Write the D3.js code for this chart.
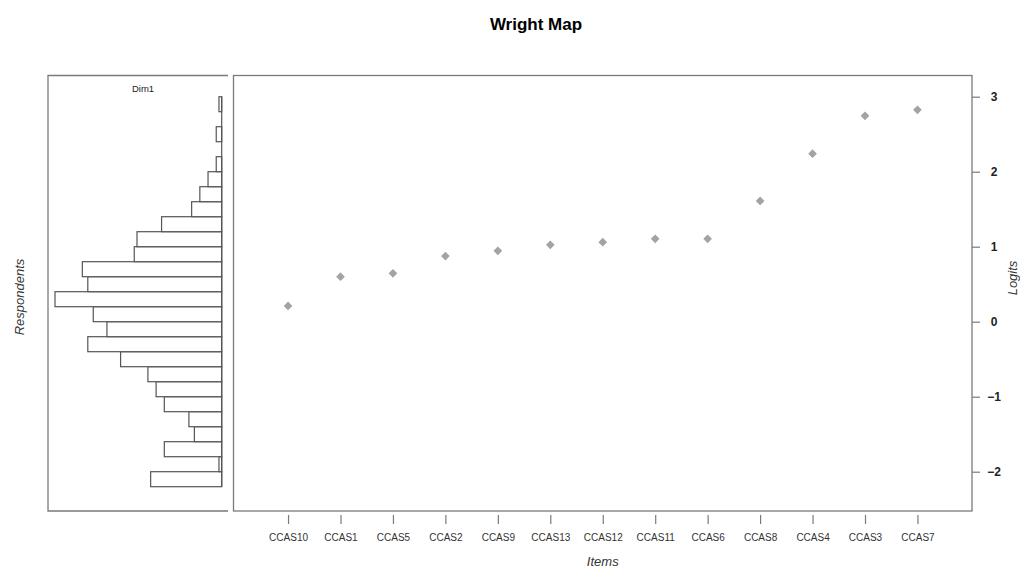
<!DOCTYPE html>
<html>
<head>
<meta charset="utf-8">
<script src="https://d3js.org/d3.v7.min.js"></script>
<style>
  body { margin: 0; background: #fff; }
  svg { font-family: "Liberation Sans", Arial, sans-serif; }
  .frame { fill: none; stroke: #7a7a7a; stroke-width: 1.3; }
  .bin { fill: #fff; stroke: #555; stroke-width: 1.2; }
  .tick line { stroke: #7a7a7a; stroke-width: 1.2; }
</style>
</head>
<body>
<script>
  // item difficulties (logits), in the order they sit on the x axis
  var items = ["CCAS10", "CCAS1", "CCAS5", "CCAS2", "CCAS9", "CCAS13", "CCAS12",
               "CCAS11", "CCAS6", "CCAS8", "CCAS4", "CCAS3", "CCAS7"];
  var item_logits = [0.21, 0.60, 0.645, 0.875, 0.945, 1.025, 1.06,
                     1.105, 1.105, 1.61, 2.24, 2.745, 2.825];

  // respondent histogram: lower edge of each 0.2-logit bin and its count
  var bin_starts = [-2.2, -2.0, -1.8, -1.6, -1.4, -1.2, -1.0, -0.8, -0.6, -0.4, -0.2,
                    0.0, 0.2, 0.4, 0.6, 0.8, 1.0, 1.2, 1.4, 1.6, 1.8, 2.0, 2.2, 2.4, 2.6, 2.8];
  var bin_counts = [26, 1, 21, 10, 12, 21, 24, 27, 37, 49, 42,
                    47, 61, 49, 51, 32, 31, 22, 11, 8, 5, 2, 0, 2, 0, 1];
  var bin_width = 0.2;

  var logit_ticks = [-2, -1, 0, 1, 2, 3];

  var chart = {
    "width": 1020,
    "height": 570,
    "top": 75.5,
    "bottom": 511,
    "left": {"x0": 48, "x1": 228, "base": 221.7, "far": 55},
    "right": {"x0": 233.5, "x1": 972}
  };

  var svg = d3.select("body").append("svg")
    .attr("width", chart.width)
    .attr("height", chart.height);

  // shared vertical logit scale
  var y = d3.scaleLinear().domain([-2, 3]).range([471.7, 96.7]);

  draw_titles();
  draw_histogram();
  draw_items();

  function draw_titles(){
    svg.append("text")
      .attr("x", 536).attr("y", 30)
      .attr("text-anchor", "middle")
      .style("font-size", "17px").style("font-weight", "bold")
      .text("Wright Map");

    svg.append("text")
      .attr("transform", "translate(24,297) rotate(-90)")
      .attr("text-anchor", "middle")
      .style("font-size", "13px").style("font-style", "italic").attr("fill", "#333")
      .text("Respondents");

    svg.append("text")
      .attr("transform", "translate(1017,278) rotate(-90)")
      .attr("text-anchor", "middle")
      .style("font-size", "13px").style("font-style", "italic").attr("fill", "#333")
      .text("Logits");

    svg.append("text")
      .attr("x", (chart.right.x0 + chart.right.x1) / 2).attr("y", 566)
      .attr("text-anchor", "middle")
      .style("font-size", "13px").style("font-style", "italic").attr("fill", "#333")
      .text("Items");
  }

  function draw_histogram(){
    var p = chart.left;
    var hx = d3.scaleLinear()
      .domain([0, d3.max(bin_counts)])
      .range([p.base, p.far]);

    //left panel has no right border
    svg.append("path")
      .attr("class", "frame")
      .attr("d", "M" + p.x1 + "," + chart.top + "H" + p.x0 + "V" + chart.bottom + "H" + p.x1);

    svg.append("text")
      .attr("x", 143).attr("y", 92)
      .attr("text-anchor", "middle")
      .style("font-size", "9.5px").attr("fill", "#222")
      .text("Dim1");

    var bins = bin_starts.map(function(s, i){ return {"start": s, "count": bin_counts[i]}; });

    svg.append("g")
      .selectAll("rect")
      .data(bins.filter(function(d){ return d.count > 0; }))
      .enter().append("rect")
      .attr("class", "bin")
      .attr("x", function(d){ return hx(d.count); })
      .attr("y", function(d){ return y(d.start + bin_width); })
      .attr("width", function(d){ return hx(0) - hx(d.count); })
      .attr("height", function(d){ return y(d.start) - y(d.start + bin_width); });

    //empty bins still leave their edge on the base line
    svg.append("line")
      .attr("x1", hx(0)).attr("x2", hx(0))
      .attr("y1", y(d3.max(bin_starts) + bin_width))
      .attr("y2", y(d3.min(bin_starts)))
      .attr("stroke", "#555").attr("stroke-width", 1.2);
  }

  function draw_items(){
    var p = chart.right;
    var x = d3.scalePoint()
      .domain(items)
      .range([p.x0, p.x1])
      .padding(1.04);

    svg.append("rect")
      .attr("class", "frame")
      .attr("x", p.x0).attr("y", chart.top)
      .attr("width", p.x1 - p.x0).attr("height", chart.bottom - chart.top);

    var xaxis = svg.append("g")
      .attr("transform", "translate(0,515)")
      .call(d3.axisBottom(x).tickSize(9).tickPadding(10));
    xaxis.select(".domain").remove();
    xaxis.selectAll("text")
      .style("font-size", "10px").attr("fill", "#333")
      .style("font-family", "'Liberation Sans', Arial, sans-serif");

    var yaxis = svg.append("g")
      .attr("transform", "translate(" + p.x1 + ",0)")
      .call(d3.axisRight(y).tickValues(logit_ticks).tickSize(8).tickPadding(2)
        .tickFormat(function(d){ return d < 0 ? "\u2212" + Math.abs(d) : d; }));
    yaxis.select(".domain").remove();
    yaxis.selectAll("text")
      .attr("x", 22).attr("text-anchor", "middle")
      .style("font-size", "12px").style("font-weight", "bold").attr("fill", "#222")
      .style("font-family", "'Liberation Sans', Arial, sans-serif");

    var diamond = d3.symbol().type(d3.symbolDiamond2).size(48);
    svg.append("g")
      .selectAll("path")
      .data(items)
      .enter().append("path")
      .attr("d", diamond)
      .attr("transform", function(d, i){
        return "translate(" + x(d) + "," + y(item_logits[i]) + ")";
      })
      .attr("fill", "#a3a3a3");
  }
</script>
</body>
</html>
